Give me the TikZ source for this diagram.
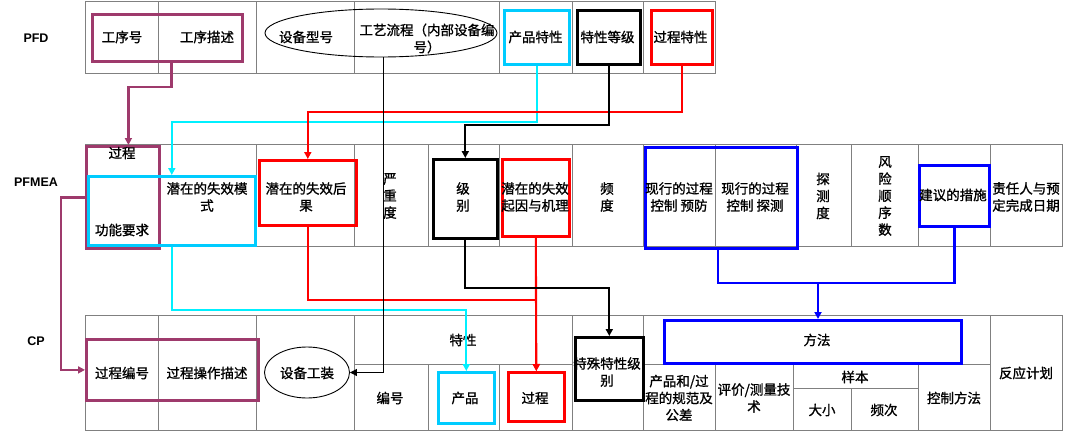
\documentclass[tikz,border=0pt]{standalone}
\usepackage{fontspec}
\setmainfont{Liberation Sans}
\newfontfamily\cjk[FakeBold=1.2]{Noto Sans CJK SC}
\usetikzlibrary{arrows.meta,shapes.geometric,calc}
\definecolor{gridgray}{RGB}{128,128,128}
\definecolor{plum}{RGB}{158,58,108}
\definecolor{cybox}{RGB}{0,204,255}
\definecolor{cyline}{RGB}{0,240,255}
\definecolor{rd}{RGB}{255,0,0}
\definecolor{bl}{RGB}{0,0,255}
\tikzset{
  grid/.style={draw=gridgray, line width=0.9pt},
  box/.style={draw=#1, line width=2.6pt, inner sep=0pt, anchor=north west},
  ell/.style={draw=black, line width=0.9pt, ellipse, inner sep=0pt},
  txt/.style={font=\cjk\fontsize{13.5}{17}\selectfont, align=center, inner sep=0pt},
  lab/.style={font=\bfseries\fontsize{12.5}{14}\selectfont, inner sep=0pt},
  conn/.style={draw=#1, line width=2.1pt},
  arr/.style={-{Triangle[length=7pt,width=7pt]}},
}
\begin{document}
\begin{tikzpicture}[x=1pt,y=-1pt]
\fill[white] (0,0) rectangle (1080,447);
\useasboundingbox (0,0) rectangle (1080,447);

% ---------- PFD grid ----------
\draw[grid] (85,1) rectangle (715,73);
\foreach \x in {158,256,354,499,572,643} \draw[grid] (\x,1) -- (\x,73);
% ---------- PFMEA grid ----------
\draw[grid] (85,144) rectangle (1062,246);
\foreach \x in {158,256,354,428,499,572,643,715,796,851,918,990} \draw[grid] (\x,144) -- (\x,246);
% ---------- CP grid ----------
\draw[grid] (85,315) rectangle (1062,430);
\foreach \x in {158,256,354,572,643,990} \draw[grid] (\x,315) -- (\x,430);
\foreach \x in {428,499,715,793,918} \draw[grid] (\x,364) -- (\x,430);
\draw[grid] (851,388) -- (851,430);
\draw[grid] (354,364) -- (572,364);
\draw[grid] (643,364) -- (990,364);
\draw[grid] (793,388) -- (918,388);

% ---------- boxes ----------
\node[box=plum, line width=2.8pt, minimum width=150, minimum height=47] (pfdP) at (91,13) {};
\node[ell, minimum width=232, minimum height=48] (e1) at (381,33) {};
\node[box=cybox, minimum width=65, minimum height=54] (pfdC) at (503,9) {};
\node[box=black, minimum width=63, minimum height=54] (pfdK) at (576,9) {};
\node[box=rd, minimum width=61, minimum height=54] (pfdR) at (650,9) {};

\node[box=plum, line width=2.8pt, minimum width=73, minimum height=102] (fmP) at (85,145) {};
\node[box=cybox, minimum width=167, minimum height=69] (fmC) at (87,175) {};
\node[box=rd, minimum width=97, minimum height=65] (fmR1) at (258,159) {};
\node[box=black, minimum width=64, minimum height=79] (fmK) at (432,158) {};
\node[box=rd, minimum width=67, minimum height=77] (fmR2) at (501,158) {};
\node[box=bl, line width=2.8pt, minimum width=152, minimum height=101] (fmB) at (644,146) {};
\node[box=bl, line width=2.8pt, minimum width=70, minimum height=61] (fmS) at (918,164) {};

\node[box=plum, line width=2.8pt, minimum width=172, minimum height=61] (cpP) at (85,338) {};
\node[ell, minimum width=85, minimum height=51] (e2) at (307,372.5) {};
\node[box=cybox, minimum width=56, minimum height=51] (cpC) at (437,371) {};
\node[box=rd, minimum width=56, minimum height=49] (cpR) at (507,371) {};
\node[box=black, minimum width=68, minimum height=63] (cpK) at (574,336) {};
\node[box=bl, line width=2.8pt, minimum width=297, minimum height=43] (cpM) at (663,319) {};

% ---------- texts ----------
\node[lab] (lPFD) at (36,38) {PFD};
\node[lab] (lFM) at (36,182) {PFMEA};
\node[lab] (lCP) at (36,341) {CP};

\node[txt] (a1) at (122,37) {工序号};
\node[txt] (a2) at (207,37) {工序描述};
\node[txt] (a3) at (306,37) {设备型号};
\node[txt] (a4) at (427,38.5) {工艺流程（内部设备编\\号）};
\node[txt] (a5) at (535.5,37) {产品特性};
\node[txt] (a6) at (607.5,37) {特性等级};
\node[txt] (a7) at (680.5,37) {过程特性};

\node[txt] (b1) at (122,153) {过程};
\node[txt] (b2) at (122,230) {功能要求};
\node[txt] (b3) at (207,197) {潜在的失效模\\式};
\node[txt] (b4) at (306,197) {潜在的失效后\\果};
\node[txt] (b5) at (390,196) {严\\重\\度};
\node[txt] (b6) at (463,197) {级\\别};
\node[txt] (b7) at (535,197) {潜在的失效\\起因与机理};
\node[txt] (b8) at (607,197) {频\\度};
\node[txt] (b9) at (679,197) {现行的过程\\控制 预防};
\node[txt] (b10) at (755,197) {现行的过程\\控制 探测};
\node[txt] (b11) at (823,196) {探\\测\\度};
\node[txt] (b12) at (885,196) {风\\险\\顺\\序\\数};
\node[txt] (b13) at (953,195) {建议的措施};
\node[txt] (b14) at (1026,197) {责任人与预\\定完成日期};

\node[txt] (c1) at (122,373) {过程编号};
\node[txt] (c2) at (207,373) {过程操作描述};
\node[txt] (c3) at (307,373) {设备工装};
\node[txt] (c4) at (463,340) {特性};
\node[txt] (c5) at (390,398) {编号};
\node[txt] (c6) at (465,398) {产品};
\node[txt] (c7) at (535,398) {过程};
\node[txt] (c8) at (607,372) {特殊特性级\\别};
\node[txt] (c9) at (817,340) {方法};
\node[txt] (c10) at (679,398) {产品和/过\\程的规范及\\公差};
\node[txt] (c11) at (754,398) {评价/测量技\\术};
\node[txt] (c12) at (855,377) {样本};
\node[txt] (c13) at (822,410) {大小};
\node[txt] (c14) at (884,410) {频次};
\node[txt] (c15) at (954,398) {控制方法};
\node[txt] (c16) at (1026,373) {反应计划};

% ---------- connectors ----------
\draw[conn=plum, line width=2.4pt, arr] ([xshift=4pt]pfdP.south) -- ++(0,24) -| ([xshift=5.5pt]fmP.north);
\draw[conn=plum, line width=2.4pt, arr] (fmP.west) -- ++(-24,0) |- (cpP.west);

\draw[conn=cyline, arr] (pfdC.south) -- ++(0,56) -| (fmC.north);
\draw[conn=cyline, arr] (fmC.south) -- ++(0,63) -| (cpC.north);

\draw[conn=rd, arr] (pfdR.south) -- ++(0,46) -| (fmR1.north);
\draw[conn=rd, arr] (fmR1.south) -- ++(0,73) -| (cpR.north);
\draw[conn=rd, arr] (fmR2.south) -- (cpR.north);

\draw[conn=black, arr] (pfdK.south) -- ++(0,59) -| (fmK.north);
\draw[conn=black, arr] (fmK.south) -- ++(0,48) -| (cpK.north);

\draw[black, line width=1pt, arr] ([xshift=2pt]e1.south) |- (e2.east);

\coordinate (bj) at (818,283);
\draw[conn=bl, line width=2.7pt] ([xshift=74pt]fmB.south west) |- (bj) -| (fmS.south);
\draw[conn=bl, line width=2.7pt, arr] (bj) -- (bj |- cpM.north);
\end{tikzpicture}
\end{document}
